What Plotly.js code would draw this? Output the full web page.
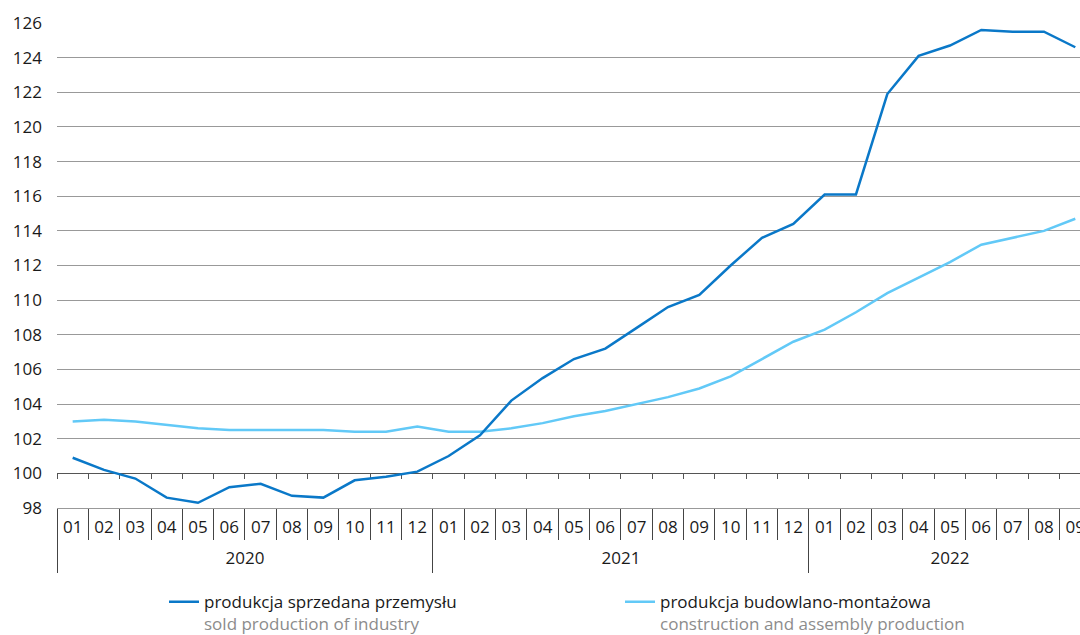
<!DOCTYPE html>
<html>
<head>
<meta charset="utf-8">
<script src="https://cdn.plot.ly/plotly-3.0.1.min.js"></script>
<style>
  html, body { margin: 0; padding: 0; background: #fff; }
  #chart { width: 1080px; height: 635px; }
</style>
</head>
<body>
<div id="chart"></div>
<script>
// months and years of each observation
var months = ['01','02','03','04','05','06','07','08','09','10','11','12',
  '01','02','03','04','05','06','07','08','09','10','11','12',
  '01','02','03','04','05','06','07','08','09'];
var years = ['2020','2020','2020','2020','2020','2020','2020','2020','2020','2020','2020','2020',
  '2021','2021','2021','2021','2021','2021','2021','2021','2021','2021','2021','2021',
  '2022','2022','2022','2022','2022','2022','2022','2022','2022'];

// produkcja sprzedana przemysłu
var industry = [100.9, 100.2, 99.7, 98.6, 98.3, 99.2, 99.4, 98.7, 98.6, 99.6, 99.8, 100.1,
  101.0, 102.2, 104.2, 105.5, 106.6, 107.2, 108.4, 109.6, 110.3, 112.0, 113.6, 114.4,
  116.1, 116.1, 121.9, 124.1, 124.7, 125.6, 125.5, 125.5, 124.6];
// produkcja budowlano-montażowa
var construction = [103.0, 103.1, 103.0, 102.8, 102.6, 102.5, 102.5, 102.5, 102.5, 102.4, 102.4, 102.7,
  102.4, 102.4, 102.6, 102.9, 103.3, 103.6, 104.0, 104.4, 104.9, 105.6, 106.6, 107.6,
  108.3, 109.3, 110.4, 111.3, 112.2, 113.2, 113.6, 114.0, 114.7];

var idx = months.map(function (m, i) { return i; });

// year groups: where each starts and its middle
var yearNames = [], yearStarts = [], yearMids = [];
years.forEach(function (y, i) {
  if (i === 0 || y !== years[i - 1]) { yearNames.push(y); yearStarts.push(i - 0.5); }
});
yearNames.forEach(function (y) {
  var pos = idx.filter(function (i) { return years[i] === y; });
  yearMids.push((pos[0] + pos[pos.length - 1]) / 2);
});

var fnt = 'Open Sans, sans-serif';
var xr = [-0.5, 32.15];   // last month is cut by the right edge

var trace1 = {
  x: idx,
  y: industry,
  type: 'scatter',
  mode: 'lines',
  name: 'produkcja sprzedana przemysłu<br><span style="color:#8c8c8c">sold production of industry</span>',
  line: {color: '#0a78c8', width: 2.5},
  legendrank: 1,
  hoverinfo: 'y'
};

var trace2 = {
  x: idx,
  y: construction,
  type: 'scatter',
  mode: 'lines',
  name: 'produkcja budowlano-montażowa<br><span style="color:#8c8c8c">construction and assembly production</span>',
  line: {color: '#62c9f7', width: 2.5},
  legendrank: 2,
  hoverinfo: 'y'
};

// empty traces so the helper axes get drawn
var helpers = ['x2', 'x3', 'x4', 'x5'].map(function (ax) {
  return {x: idx, y: construction, xaxis: ax, yaxis: 'y', type: 'scatter', mode: 'none',
    showlegend: false, hoverinfo: 'skip'};
});

var layout = {
  width: 1080,
  height: 635,
  margin: {l: 57, r: 0, t: 23, b: 127, autoexpand: false},
  paper_bgcolor: '#fff',
  plot_bgcolor: '#fff',
  font: {family: fnt, size: 17, color: '#1a1a1a'},
  showlegend: true,
  legend: {
    orientation: 'h',
    x: 0.1046, y: -0.157,
    xanchor: 'left', yanchor: 'top',
    valign: 'top',
    entrywidth: 411,
    entrywidthmode: 'pixels',
    font: {family: fnt, size: 17, color: '#1a1a1a'}
  },
  // main axis: line at 98 and month separators
  xaxis: {
    range: xr,
    tickmode: 'linear', tick0: -0.5, dtick: 1,
    ticks: 'outside', ticklen: 31, tickcolor: '#444', tickwidth: 1,
    showticklabels: false,
    showgrid: false, zeroline: false,
    showline: true, linecolor: '#999', linewidth: 1
  },
  // month labels
  xaxis2: {
    overlaying: 'x', anchor: 'y', side: 'bottom',
    range: xr,
    tickmode: 'array', tickvals: idx, ticktext: months,
    ticks: '', showgrid: false, zeroline: false, showline: false,
    ticklabelstandoff: 7,
    ticklabeloverflow: 'allow',
    tickfont: {family: fnt, size: 17, color: '#1a1a1a'}
  },
  // year dividers
  xaxis3: {
    overlaying: 'x', anchor: 'y', side: 'bottom',
    range: xr,
    tickmode: 'array', tickvals: yearStarts,
    ticks: 'outside', ticklen: 64, tickcolor: '#444', tickwidth: 1,
    showticklabels: false, showgrid: false, zeroline: false, showline: false
  },
  // year labels
  xaxis4: {
    overlaying: 'x', anchor: 'y', side: 'bottom',
    range: xr,
    tickmode: 'array', tickvals: yearMids, ticktext: yearNames,
    ticks: '', showgrid: false, zeroline: false, showline: false,
    ticklabelstandoff: 38,
    tickfont: {family: fnt, size: 17, color: '#1a1a1a'}
  },
  // line at 100 with small ticks
  xaxis5: {
    overlaying: 'x', anchor: 'free', position: (100 - 98) / (126 - 98),
    range: xr,
    tickmode: 'linear', tick0: -0.5, dtick: 1,
    ticks: 'outside', ticklen: 5, tickcolor: '#555', tickwidth: 1,
    showticklabels: false, showgrid: false, zeroline: false,
    showline: true, linecolor: '#555', linewidth: 1,
    layer: 'below traces'
  },
  yaxis: {
    range: [98, 126],
    tickmode: 'linear', tick0: 98, dtick: 2,
    ticks: '', showgrid: true, gridcolor: '#999', gridwidth: 1,
    zeroline: false, showline: false,
    ticklabelstandoff: 14,
    tickfont: {family: fnt, size: 17, color: '#1a1a1a'}
  }
};

Plotly.newPlot('chart', [trace2, trace1].concat(helpers), layout, {displayModeBar: false, responsive: false});
</script>
</body>
</html>
